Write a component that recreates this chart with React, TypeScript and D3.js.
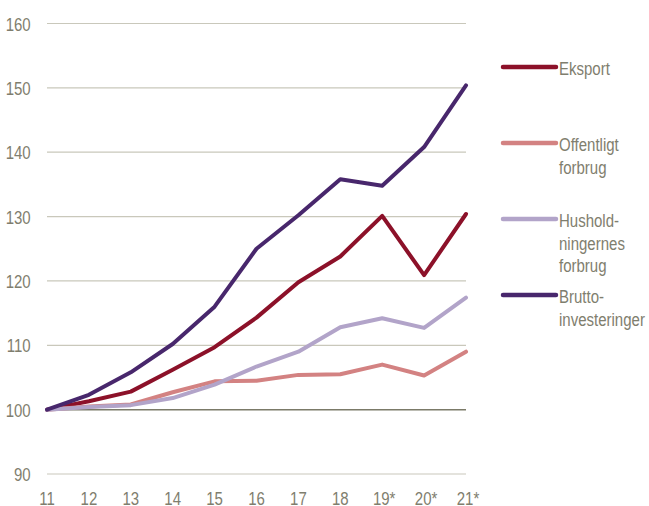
import React from "react";
import * as d3 from "d3";

const years = ["11", "12", "13", "14", "15", "16", "17", "18", "19*", "20*", "21*"];
const eksport = [100, 101.3, 102.8, 106.2, 109.7, 114.3, 119.8, 123.8, 130.1, 120.9, 130.4];
const offentligt = [100, 100.5, 100.8, 102.7, 104.4, 104.5, 105.4, 105.5, 107.0, 105.3, 109.0];
const hushold = [100, 100.4, 100.7, 101.8, 103.9, 106.7, 109.0, 112.8, 114.2, 112.7, 117.4];
const brutto = [100, 102.3, 105.8, 110.2, 116.0, 125.0, 130.2, 135.8, 134.8, 140.8, 150.4];
const yTicks = [90, 100, 110, 120, 130, 140, 150, 160];

const series = [
  { name: ["Eksport"], values: eksport, color: "#8c1129", ly: 67 },
  { name: ["Offentligt", "forbrug"], values: offentligt, color: "#d38282", ly: 143 },
  { name: ["Hushold-", "ningernes", "forbrug"], values: hushold, color: "#b2a4c9", ly: 219 },
  { name: ["Brutto-", "investeringer"], values: brutto, color: "#48276c", ly: 295 },
];

const textColor = "#7f7e6e";
const font = "'Liberation Sans', Arial, sans-serif";
const FS = 19;
const SX = 0.79;

function T({ x, y, anchor = "start", children }: { x: number; y: number; anchor?: string; children: React.ReactNode }) {
  return (
    <text
      transform={`translate(${x},${y}) scale(${SX},1)`}
      textAnchor={anchor}
      fontFamily={font}
      fontSize={FS}
      fill={textColor}
    >
      {children}
    </text>
  );
}

export default function App() {
  const x = d3.scalePoint<string>().domain(years).range([47, 466]);
  const y = d3.scaleLinear().domain([90, 160]).range([474, 23.5]);
  const line = d3
    .line<number>()
    .x((_, i) => x(years[i]) as number)
    .y((d) => y(d));

  return (
    <svg width={649} height={506} style={{ display: "block", position: "absolute", left: 0, top: 0 }}>
      <rect width={649} height={506} fill="#fff" />
      {yTicks.map((t) => (
        <g key={t}>
          <line
            x1={47}
            x2={466}
            y1={y(t)}
            y2={y(t)}
            stroke={t === 100 ? "#7b7a68" : "#c9c8bb"}
            strokeWidth={t === 100 ? 1.5 : 1.2}
          />
          <T x={30.7} y={y(t) + 7} anchor="end">
            {t}
          </T>
        </g>
      ))}
      {years.map((yr) => (
        <T key={yr} x={(x(yr) as number) + (yr.includes("*") ? 2 : 0)} y={505} anchor="middle">
          {yr}
        </T>
      ))}
      {series.map((s) => (
        <path
          key={s.name[0]}
          d={line(s.values) as string}
          fill="none"
          stroke={s.color}
          strokeWidth={4}
          strokeLinejoin="round"
          strokeLinecap="round"
        />
      ))}
      {series.map((s) => (
        <g key={"lg" + s.name[0]}>
          <line x1={503} x2={556} y1={s.ly} y2={s.ly} stroke={s.color} strokeWidth={4.5} strokeLinecap="round" />
          {s.name.map((n, i) => (
            <T key={n} x={559} y={s.ly + 8 + i * 22.5}>
              {n}
            </T>
          ))}
        </g>
      ))}
    </svg>
  );
}
